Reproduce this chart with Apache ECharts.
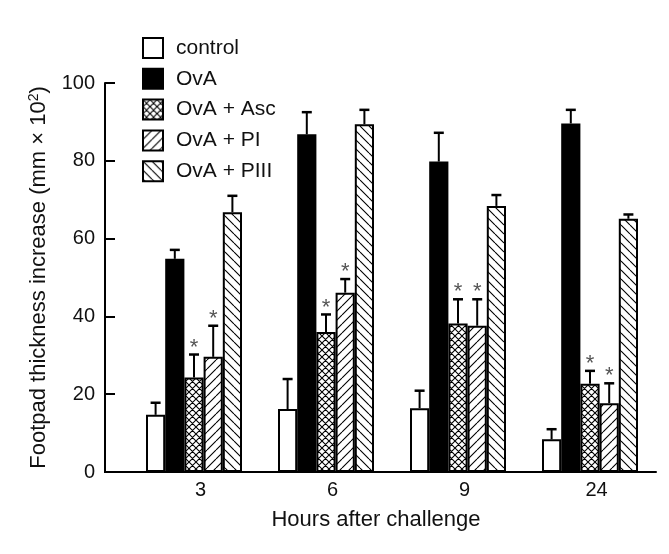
<!DOCTYPE html>
<html>
<head>
<meta charset="utf-8">
<script src="https://cdn.jsdelivr.net/npm/echarts@6/dist/echarts.min.js"></script>
<style>
html,body{margin:0;padding:0;background:#fff;}
#chart{width:669px;height:554px;}
</style>
</head>
<body>
<div id="chart"></div>
<script>
// ---- data ----
const categories = ['3', '6', '9', '24'];
const seriesNames = ['control', 'OvA', 'OvA + Asc', 'OvA + PI', 'OvA + PIII'];
const controlVals = [14.7, 16.2, 16.4, 8.4];
const controlErr = [3.1, 7.7, 4.5, 2.6];
const ovaVals = [54.8, 86.8, 79.8, 89.6];
const ovaErr = [2.3, 5.7, 7.4, 3.5];
const ascVals = [24.3, 36.0, 38.2, 22.7];
const ascErr = [5.9, 4.5, 6.2, 3.3];
const piVals = [29.6, 46.1, 37.6, 17.7];
const piErr = [8.0, 3.5, 6.8, 5.1];
const piiiVals = [66.8, 89.4, 68.4, 65.1];
const piiiErr = [4.2, 3.7, 2.8, 1.1];
const ascStars = [true, true, true, true];
const piStars = [true, true, true, true];
const noStars = [false, false, false, false];
const yTicks = [0, 20, 40, 60, 80, 100];

// ---- layout ----
const FONT = '"Liberation Sans", Arial, Helvetica, sans-serif';
const GRID_LEFT = 128, GRID_RIGHT = 13, GRID_TOP = 83, GRID_BOTTOM = 82;
const Y_OFFSET = 23;
const BAR_W = 19.2;

function hatch(kind, size) {
  const c = document.createElement('canvas');
  c.width = size; c.height = size;
  const g = c.getContext('2d');
  g.fillStyle = '#fff';
  g.fillRect(0, 0, size, size);
  g.strokeStyle = '#000';
  g.lineWidth = 1.1;
  g.beginPath();
  for (const k of [-size, 0, size]) {
    if (kind === 'fwd' || kind === 'cross') {
      g.moveTo(k, size); g.lineTo(k + size, 0);
    }
    if (kind === 'back' || kind === 'cross') {
      g.moveTo(k, 0); g.lineTo(k + size, size);
    }
  }
  g.stroke();
  return { image: c, repeat: 'repeat' };
}

const fills = ['#ffffff', '#000000', hatch('cross', 7), hatch('fwd', 9), hatch('back', 9)];
const valueSets = [controlVals, ovaVals, ascVals, piVals, piiiVals];
const errSets = [controlErr, ovaErr, ascErr, piErr, piiiErr];
const starSets = [noStars, noStars, ascStars, piStars, noStars];

const barSeries = seriesNames.map((name, si) => ({
  type: 'bar',
  name: name,
  data: valueSets[si],
  barWidth: BAR_W,
  barGap: '0%',
  itemStyle: { color: fills[si], borderColor: '#000', borderWidth: 2 },
  emphasis: { disabled: true },
  silent: true,
  z: 2
}));

const errSeries = seriesNames.map((name, si) => ({
  type: 'custom',
  silent: true,
  z: 5,
  data: valueSets[si].map((v, i) => [i, v, errSets[si][i], starSets[si][i] ? 1 : 0]),
  renderItem: function (params, api) {
    const ci = api.value(0), v = api.value(1), e = api.value(2), st = api.value(3);
    const base = api.coord([ci, v]);
    const top = api.coord([ci, v + e]);
    const x = base[0] + (si - 2) * BAR_W;
    const children = [
      { type: 'line', shape: { x1: x, y1: base[1], x2: x, y2: top[1] }, style: { stroke: '#000', lineWidth: 2 } },
      { type: 'line', shape: { x1: x - 5, y1: top[1], x2: x + 5, y2: top[1] }, style: { stroke: '#000', lineWidth: 2.5 } }
    ];
    if (st) {
      children.push({ type: 'text', x: x, y: top[1] - 7,
        style: { text: '*', fill: '#555', font: '22px ' + FONT, align: 'center', verticalAlign: 'middle' } });
    }
    return { type: 'group', children: children };
  }
}));

const chart = echarts.init(document.getElementById('chart'), null, { renderer: 'canvas' });
chart.setOption({
  animation: false,
  backgroundColor: '#fff',
  textStyle: { fontFamily: FONT },
  grid: { left: GRID_LEFT, right: GRID_RIGHT, top: GRID_TOP, bottom: GRID_BOTTOM, containLabel: false },
  legend: {
    orient: 'vertical',
    left: 142, top: 37,
    padding: 0,
    itemWidth: 20, itemHeight: 20, itemGap: 8.8,
    icon: 'rect',
    data: seriesNames,
    selectedMode: false,
    itemStyle: { borderColor: '#000', borderWidth: 2 },
    textStyle: { fontSize: 21, lineHeight: 20, color: '#111', fontFamily: FONT, padding: [0, 0, 0, 8] }
  },
  xAxis: {
    type: 'category',
    data: categories,
    boundaryGap: true,
    axisLine: { lineStyle: { color: '#000', width: 2 } },
    axisTick: { inside: true, length: 10, lineStyle: { color: '#000', width: 2 },
      interval: function (i) { return i !== 0; } },
    axisLabel: { fontSize: 20, color: '#111', margin: 8, padding: [0, 0, 0, 13], fontFamily: FONT },
    name: 'Hours after challenge',
    nameLocation: 'middle',
    nameGap: 37,
    nameTextStyle: { fontSize: 22, color: '#111', padding: [0, 32, 0, 0], fontFamily: FONT }
  },
  yAxis: {
    type: 'value',
    min: yTicks[0], max: yTicks[yTicks.length - 1], interval: 20,
    offset: Y_OFFSET,
    axisLine: { show: true, lineStyle: { color: '#000', width: 2 } },
    axisTick: { show: true, inside: true, length: 10, lineStyle: { color: '#000', width: 2 } },
    splitLine: { show: false },
    axisLabel: { fontSize: 20, color: '#111', margin: 10, fontFamily: FONT },
    name: '{t|Footpad thickness increase (mm × 10}{s|2}{t|)}',
    nameLocation: 'middle',
    nameRotate: 90,
    nameGap: 55,
    nameTextStyle: {
      rich: {
        t: { fontSize: 22, color: '#111', fontFamily: FONT },
        s: { fontSize: 14, color: '#111', fontFamily: FONT, padding: [0, 0, 9, 0] }
      }
    }
  },
  series: barSeries.concat(errSeries)
});

// extend the x axis line left to meet the offset y axis
const y0 = chart.convertToPixel({ yAxisIndex: 0 }, 0);
chart.setOption({
  graphic: [{
    type: 'line',
    shape: { x1: GRID_LEFT - Y_OFFSET - 1, y1: y0, x2: GRID_LEFT, y2: y0 },
    style: { stroke: '#000', lineWidth: 2 },
    silent: true
  }]
});
</script>
</body>
</html>
